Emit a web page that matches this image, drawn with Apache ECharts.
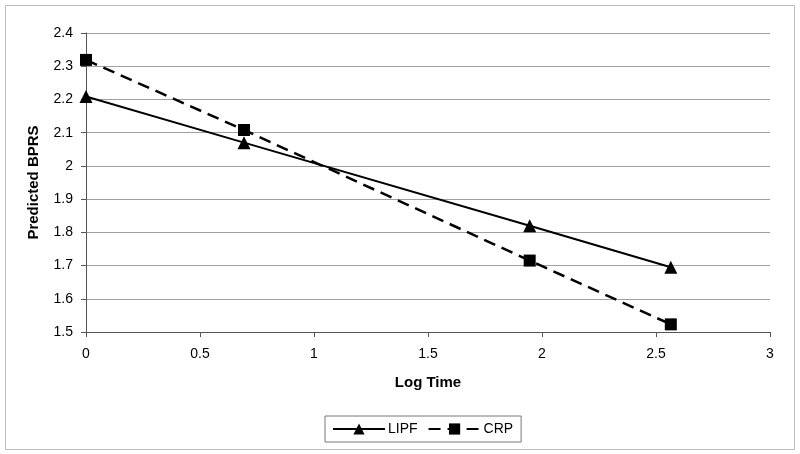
<!DOCTYPE html>
<html><head><meta charset="utf-8">
<script src="https://cdn.jsdelivr.net/npm/echarts@6/dist/echarts.min.js"></script>
<style>html,body{margin:0;padding:0;background:#fff}#c{width:800px;height:454px}</style>
</head><body><div id="c"></div>
<script>
const logTime = [0, 0.693, 1.946, 2.565];
const lipf = [2.209, 2.07, 1.82, 1.695];
const crp = [2.319, 2.108, 1.715, 1.523];
const seriesNames = ['LIPF', 'CRP'];

const chart = echarts.init(document.getElementById('c'));
const font = 'Liberation Sans, Arial, sans-serif';
chart.setOption({
  animation: false,
  backgroundColor: '#fff',
  graphic: [{type:'rect', shape:{x:5.5,y:5.5,width:789,height:444}, style:{fill:'none', stroke:'#bdbdbd', lineWidth:1}, z:-1}],
  grid: {left: 86, right: 30, top: 33, bottom: 122},
  xAxis: {
    type: 'value', min: 0, max: 3, interval: 0.5,
    name: 'Log Time', nameLocation: 'middle', nameGap: 43,
    nameTextStyle: {fontFamily: font, fontWeight: 'bold', fontSize: 15, color: '#000'},
    axisLine: {show: true, onZero: false, lineStyle: {color: '#555', width: 1}},
    axisTick: {show: true, length: 5, lineStyle: {color: '#555'}},
    axisLabel: {fontFamily: font, fontSize: 14, color: '#000', margin: 15},
    splitLine: {show: false}
  },
  yAxis: {
    type: 'value', min: 1.5, max: 2.4, interval: 0.1,
    name: 'Predicted BPRS', nameLocation: 'middle', nameGap: 45, nameRotate: 90,
    nameTextStyle: {fontFamily: font, fontWeight: 'bold', fontSize: 15, color: '#000'},
    axisLine: {show: true, lineStyle: {color: '#555', width: 1}},
    axisTick: {show: true, length: 5, lineStyle: {color: '#555'}},
    axisLabel: {fontFamily: font, fontSize: 14, color: '#000', margin: 13},
    splitLine: {show: true, lineStyle: {color: '#a0a0a0', width: 1}}
  },
  legend: {
    bottom: 12, left: 325,
    data: seriesNames,
    itemWidth: 52, itemHeight: 14, itemGap: 10,
    borderColor: '#777', borderWidth: 1, padding: [6, 8, 6, 7],
    textStyle: {fontFamily: font, fontSize: 14, color: '#000', padding: [0, 0, 0, -2]}
  },
  series: [
    {name: seriesNames[0], type: 'line', data: logTime.map((x,i)=>[x, lipf[i]]),
     symbol: 'triangle', symbolSize: 13, itemStyle: {color: '#000'},
     lineStyle: {color: '#000', width: 2}},
    {name: seriesNames[1], type: 'line', data: logTime.map((x,i)=>[x, crp[i]]),
     symbol: 'rect', symbolSize: 12, itemStyle: {color: '#000'},
     lineStyle: {color: '#000', width: 2.5, type: [12, 7]}}
  ]
});
</script></body></html>
